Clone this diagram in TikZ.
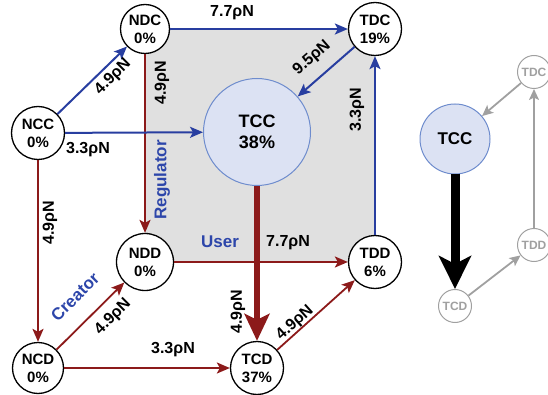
\documentclass[tikz,border=0pt]{standalone}
\usepackage{fontspec}
\setmainfont{Liberation Sans}
\usetikzlibrary{arrows.meta}
\definecolor{bl}{RGB}{40,62,160}
\definecolor{blt}{RGB}{45,70,170}
\definecolor{rd}{RGB}{140,26,26}
\definecolor{boxg}{RGB}{224,224,224}
\definecolor{tccf}{RGB}{220,226,243}
\definecolor{tccb}{RGB}{110,140,205}
\definecolor{gr}{RGB}{160,160,160}
\begin{document}
\begin{tikzpicture}[x=1pt,y=-1pt,
 st/.style={circle,draw=black,line width=1.3pt,fill=white,inner sep=0pt,align=center,font=\bfseries\fontsize{15}{18}\selectfont},
 tcc/.style={circle,draw=tccb,line width=1pt,fill=tccf,inner sep=0pt,align=center},
 lb/.style={font=\bfseries\fontsize{16}{16}\selectfont,inner sep=0pt},
 bt/.style={font=\bfseries\fontsize{17}{17}\selectfont,text=blt,inner sep=0pt},
 ba/.style={draw=bl,line width=2pt,-{Stealth[length=13pt,width=11pt,inset=3pt]}},
 ra/.style={draw=rd,line width=1.8pt,-{Stealth[length=13pt,width=11pt,inset=3pt]}},
 rthick/.style={draw=rd,line width=6pt,-{Stealth[length=27pt,width=25pt,inset=6pt]}},
 kthick/.style={draw=black,line width=9pt,-{Stealth[length=33pt,width=32pt,inset=8pt]}},
 ga/.style={draw=gr,line width=1.8pt,-{Stealth[length=11pt,width=10pt,inset=2.5pt]}},
 gn/.style={circle,draw=gr,line width=1pt,fill=white,inner sep=0pt,text=gr,font=\bfseries\fontsize{12}{12}\selectfont,minimum size=33pt},
]
\useasboundingbox (0,0) rectangle (548,395);
\fill[boxg] (145,29) rectangle (375,262);
% nodes
\node[st,minimum size=49pt] (NDC) at (145,29) {NDC\\0\%};
\node[st,minimum size=53pt] (TDC) at (375,29) {TDC\\19\%};
\node[st,minimum size=53pt] (NCC) at (38,133) {NCC\\0\%};
\node[tcc,minimum size=107pt,font=\bfseries\fontsize{18}{21}\selectfont] (TCC) at (257,132) {TCC\\38\%};
\node[st,minimum size=57pt] (NDD) at (145,262) {NDD\\0\%};
\node[st,minimum size=53pt] (TDD) at (375,262) {TDD\\6\%};
\node[st,minimum size=51pt] (NCD) at (38,368) {NCD\\0\%};
\node[st,minimum size=53pt] (TCD) at (257,368) {TCD\\37\%};
% red arrows
\draw[ra] (NDC) -- (NDD);
\draw[ra] (NCC) -- (NCD);
\draw[ra] (NCD) -- (NDD);
\draw[ra] (NCD) -- (TCD);
\draw[ra] (NDD) -- (TDD);
\draw[ra] (TCD) -- (TDD);
% blue arrows
\draw[ba] (NCC) -- (NDC);
\draw[ba] (NCC) -- (TCC);
\draw[ba] (NDC) -- (TDC);
\draw[ba] (TDC) -- (TCC);
\draw[ba] (TDD) -- (TDC);
% thick
\draw[rthick] (TCC) -- (TCD);
% labels
\node[lb] at (232,13) {7.7ρN};
\node[lb,rotate=45] at (113,77) {4.9ρN};
\node[lb] at (88,150) {3.3ρN};
\node[lb,rotate=90] at (162,83) {4.9ρN};
\node[bt,rotate=90] at (162,180) {Regulator};
\node[lb,rotate=41] at (312,58) {9.5ρN};
\node[lb,rotate=90] at (357,110) {3.3ρN};
\node[lb,rotate=90] at (50,223) {4.9ρN};
\node[bt,rotate=45] at (75,297) {Creator};
\node[lb,rotate=45] at (113,317) {4.9ρN};
\node[bt] at (220,242) {User};
\node[lb] at (288,243) {7.7ρN};
\node[lb] at (173,350) {3.3ρN};
\node[lb,rotate=90] at (238,312) {4.9ρN};
\node[lb,rotate=42] at (295,323) {4.9ρN};
% right part
\node[tcc,minimum size=70pt,font=\bfseries\fontsize{17}{17}\selectfont] (TCC2) at (455,139) {TCC};
\node[gn] (TDC2) at (534,72) {TDC};
\node[gn] (TDD2) at (534,245) {TDD};
\node[gn] (TCD2) at (455,306) {TCD};
\draw[ga] (TDC2) -- (TCC2);
\draw[ga] (TDD2) -- (TDC2);
\draw[ga] (TCD2) -- (TDD2);
\draw[kthick] (TCC2) -- (TCD2);
\end{tikzpicture}
\end{document}
